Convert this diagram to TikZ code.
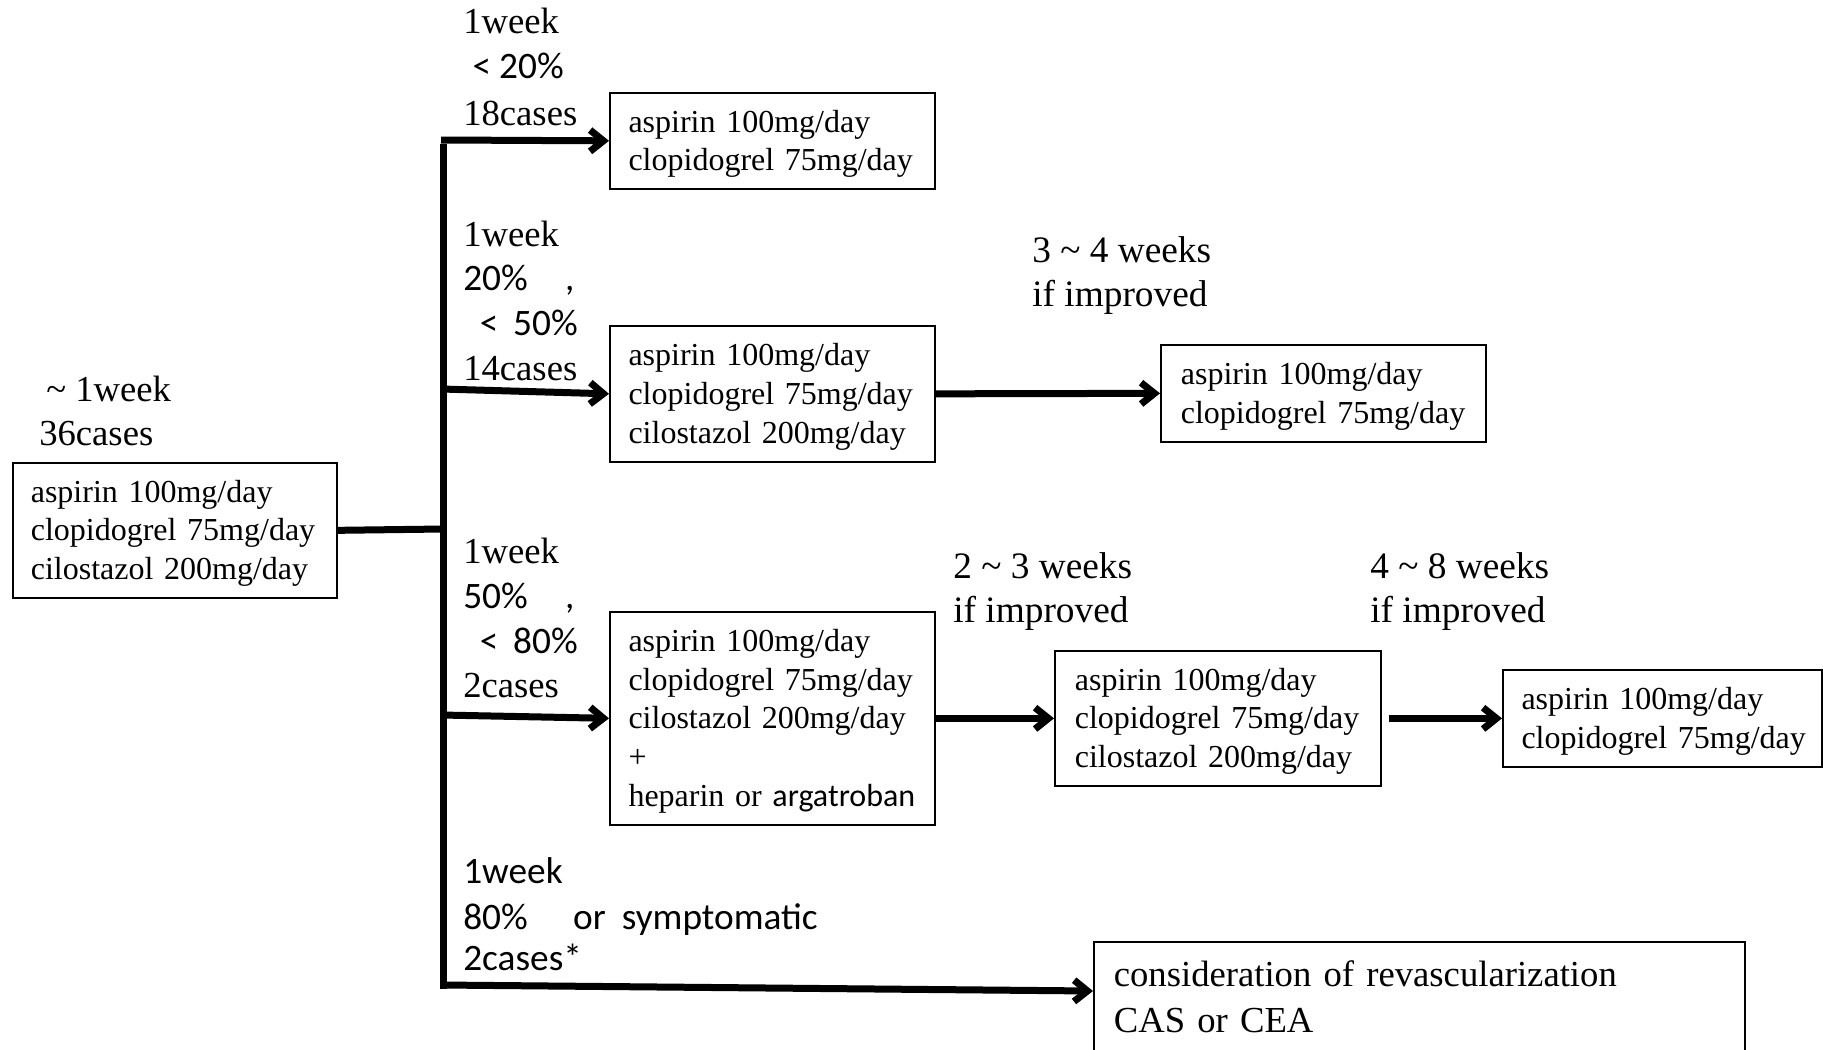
\documentclass[tikz,border=0pt]{standalone}
\usepackage{fontspec}
\setmainfont{Liberation Serif}
\newfontfamily\sansf{Carlito}
\usetikzlibrary{arrows.meta}
\tikzset{
  box/.style={draw, line width=1.25pt, anchor=north west, align=left, inner ysep=0pt,
    font=\fontsize{24}{29}\selectfont, execute at begin node={\rule{0pt}{21pt}}},
  lbl/.style={anchor=base west, inner sep=0pt, font=\fontsize{27.5}{32}\selectfont},
  wlbl/.style={lbl, font=\fontsize{28}{32}\selectfont},
  slbl/.style={lbl, font=\fontsize{28}{32}\selectfont\sansf},
  arr/.style={line width=5.25pt, -{Straight Barb[length=10pt,width=16pt]}},
  heavy/.style={line width=5.25pt},
}
\begin{document}
\begin{tikzpicture}[x=0.75pt,y=-0.75pt]
\useasboundingbox (0,0) rectangle (1823,1049);
% boxes
\node[box, minimum width=243pt, minimum height=101.25pt, inner xsep=13.5pt, text width=216pt] (b0) at (12,462)
  {aspirin 100mg/day\\\mbox{clopidogrel 75mg/day}\\\mbox{cilostazol 200mg/day}};
\node[box, minimum width=243.75pt, minimum height=72pt, inner xsep=14pt, text width=215.75pt] (b1) at (609,92)
  {aspirin 100mg/day\\\mbox{clopidogrel 75mg/day}};
\node[box, minimum width=243.75pt, minimum height=102pt, inner xsep=14pt, text width=215.75pt] (b2) at (609,325)
  {aspirin 100mg/day\\\mbox{clopidogrel 75mg/day}\\\mbox{cilostazol 200mg/day}};
\node[box, minimum width=243.75pt, minimum height=72.75pt, inner xsep=15pt, text width=213.75pt] (b3) at (1160,344)
  {aspirin 100mg/day\\\mbox{clopidogrel 75mg/day}};
\node[box, minimum width=243.75pt, minimum height=159.75pt, inner xsep=14pt, text width=215.75pt] (b4) at (609,611)
  {aspirin 100mg/day\\\mbox{clopidogrel 75mg/day}\\\mbox{cilostazol 200mg/day}\\+\\\mbox{heparin or {\sansf argatroban}}};
\node[box, minimum width=244.5pt, minimum height=101.25pt, inner xsep=15pt, text width=214.5pt] (b5) at (1054,650)
  {aspirin 100mg/day\\\mbox{clopidogrel 75mg/day}\\\mbox{cilostazol 200mg/day}};
\node[box, minimum width=239.25pt, minimum height=72.75pt, inner xsep=14pt, text width=211.25pt] (b6) at (1502,669)
  {aspirin 100mg/day\\\mbox{clopidogrel 75mg/day}};
\node[box, minimum width=488.25pt, minimum height=90pt, inner xsep=15pt, text width=458.25pt,
  font=\fontsize{27.5}{34.5}\selectfont, execute at begin node={}] (b7) at (1093,941)
  {\mbox{consideration of revascularization}\\CAS or CEA\rule[-10pt]{0pt}{10pt}};
% labels left
\node[lbl] (l0a) at (46,401) {\textasciitilde\ 1week};
\node[lbl] (l0b) at (39,445) {36cases};
% group 1
\node[lbl] (g1a) at (463,34) {1week};
\node[slbl] (g1b) at (463,79) {\hspace{7pt}<\hspace{6pt}20\%};
\node[lbl] (g1c) at (463,125) {18cases};
% group 2
\node[lbl] (g2a) at (463,246) {1week};
\node[slbl] (g2b) at (463,290) {20\%\hspace{28pt},};
\node[slbl] (g2c) at (463,335) {\hspace{12.5pt}<\hspace{11pt}50\%};
\node[lbl] (g2d) at (463,380) {14cases};
% group 3
\node[lbl] (g3a) at (463,563) {1week};
\node[slbl] (g3b) at (463,608) {50\%\hspace{28pt},};
\node[slbl] (g3c) at (463,653) {\hspace{12.5pt}<\hspace{11pt}80\%};
\node[lbl] (g3d) at (463,697) {2cases};
% group 4
\node[slbl] (g4a) at (463,883) {1week};
\node[slbl] (g4b) at (463,929) {80\%\hspace{34pt}or\hspace{12pt}symptomatic};
\node[slbl] (g4c) at (463,970) {2cases*};
% step labels
\node[wlbl] (s1a) at (1032,262) {3 \textasciitilde\ 4 weeks};
\node[wlbl] (s1b) at (1032,306) {if improved};
\node[wlbl] (s2a) at (953,578) {2 \textasciitilde\ 3 weeks};
\node[wlbl] (s2b) at (953,622) {if improved};
\node[wlbl] (s3a) at (1370,578) {4 \textasciitilde\ 8 weeks};
\node[wlbl] (s3b) at (1370,622) {if improved};
% trunk
\coordinate (bt) at (443.5,144);
\coordinate (bb) at (443.5,989);
\coordinate (j0) at (443.5,529);
\coordinate (j1) at (441,140);
\coordinate (j2) at (441,389);
\coordinate (j3) at (441,715);
\coordinate (j4) at (441,985);
\coordinate (t7) at (1093,991);
\draw[heavy] (bt) -- (bb);
\draw[heavy] (b0.east) -- (j0);
\draw[arr] (j1) -- (b1.west);
\draw[arr] (j2) -- (b2.west);
\draw[arr] (j3) -- (b4.west);
\draw[arr] (j4) -- (t7);
\draw[arr] (b2.east) -- (b3.west);
\draw[arr] (b4.east) -- (b5.west);
\draw[arr, shorten <=7*0.75pt] (b5.east) -- (b6.west);
\end{tikzpicture}
\end{document}
